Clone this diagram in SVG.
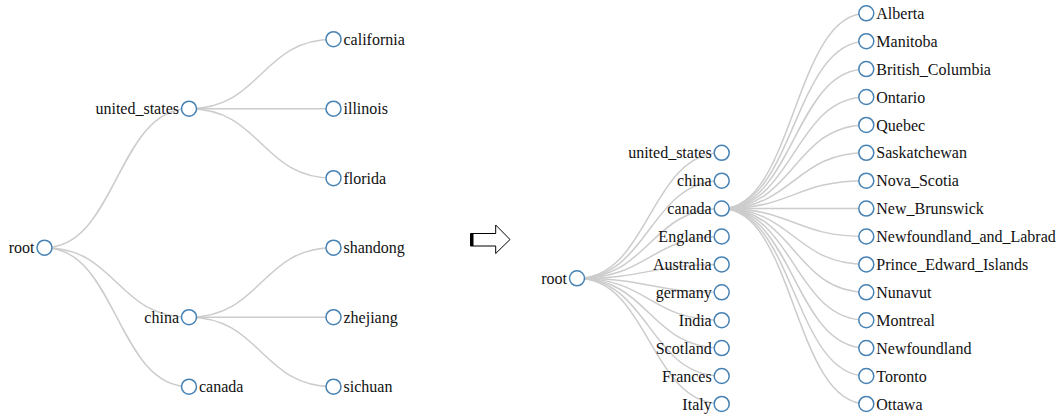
<svg xmlns="http://www.w3.org/2000/svg" width="1063" height="419" viewBox="0 0 1063 419">
<style>
.link{fill:none;stroke:#ccc;stroke-width:1.5}
circle{fill:#fff;stroke:#4682b4;stroke-width:1.5}
text{font-family:'Liberation Serif','Times New Roman',serif;font-size:16px;fill:#111}
.l{text-anchor:end}
</style>
<rect width="1063" height="419" fill="#fff"/>
<g id="links">
<path class="link" d="M44.5,247.7C116.75,247.7 116.75,108.7 189,108.7"/>
<path class="link" d="M44.5,247.7C116.75,247.7 116.75,317.2 189,317.2"/>
<path class="link" d="M44.5,247.7C116.75,247.7 116.75,386.7 189,386.7"/>
<path class="link" d="M189,108.7C261.25,108.7 261.25,39.2 333.5,39.2"/>
<path class="link" d="M189,108.7C261.25,108.7 261.25,108.7 333.5,108.7"/>
<path class="link" d="M189,108.7C261.25,108.7 261.25,178.2 333.5,178.2"/>
<path class="link" d="M189,317.2C261.25,317.2 261.25,247.7 333.5,247.7"/>
<path class="link" d="M189,317.2C261.25,317.2 261.25,317.2 333.5,317.2"/>
<path class="link" d="M189,317.2C261.25,317.2 261.25,386.7 333.5,386.7"/>
<path class="link" d="M577,278.35C649.35,278.35 649.35,152.8 721.7,152.8"/>
<path class="link" d="M577,278.35C649.35,278.35 649.35,180.7 721.7,180.7"/>
<path class="link" d="M577,278.35C649.35,278.35 649.35,208.6 721.7,208.6"/>
<path class="link" d="M577,278.35C649.35,278.35 649.35,236.5 721.7,236.5"/>
<path class="link" d="M577,278.35C649.35,278.35 649.35,264.4 721.7,264.4"/>
<path class="link" d="M577,278.35C649.35,278.35 649.35,292.3 721.7,292.3"/>
<path class="link" d="M577,278.35C649.35,278.35 649.35,320.2 721.7,320.2"/>
<path class="link" d="M577,278.35C649.35,278.35 649.35,348.1 721.7,348.1"/>
<path class="link" d="M577,278.35C649.35,278.35 649.35,376 721.7,376"/>
<path class="link" d="M577,278.35C649.35,278.35 649.35,403.9 721.7,403.9"/>
<path class="link" d="M721.7,208.6C794,208.6 794,13.3 866.3,13.3"/>
<path class="link" d="M721.7,208.6C794,208.6 794,41.2 866.3,41.2"/>
<path class="link" d="M721.7,208.6C794,208.6 794,69.1 866.3,69.1"/>
<path class="link" d="M721.7,208.6C794,208.6 794,97 866.3,97"/>
<path class="link" d="M721.7,208.6C794,208.6 794,124.9 866.3,124.9"/>
<path class="link" d="M721.7,208.6C794,208.6 794,152.8 866.3,152.8"/>
<path class="link" d="M721.7,208.6C794,208.6 794,180.7 866.3,180.7"/>
<path class="link" d="M721.7,208.6C794,208.6 794,208.6 866.3,208.6"/>
<path class="link" d="M721.7,208.6C794,208.6 794,236.5 866.3,236.5"/>
<path class="link" d="M721.7,208.6C794,208.6 794,264.4 866.3,264.4"/>
<path class="link" d="M721.7,208.6C794,208.6 794,292.3 866.3,292.3"/>
<path class="link" d="M721.7,208.6C794,208.6 794,320.2 866.3,320.2"/>
<path class="link" d="M721.7,208.6C794,208.6 794,348.1 866.3,348.1"/>
<path class="link" d="M721.7,208.6C794,208.6 794,376 866.3,376"/>
<path class="link" d="M721.7,208.6C794,208.6 794,403.9 866.3,403.9"/>
</g>
<g id="arrow">
<polygon points="470.5,233.5 495.7,233.5 495.7,225 510,239.5 495.7,253.5 495.7,246 470.5,246" fill="#fff" stroke="#000" stroke-width="1"/>
<rect x="470.5" y="233.5" width="3" height="12.5" fill="#000"/>
</g>
<g id="L_root"><circle cx="44.5" cy="247.7" r="7.5"/><text class="l" x="34.5" y="247.7" dy=".35em">root</text></g>
<g id="L_united_states"><circle cx="189" cy="108.7" r="7.5"/><text class="l" x="179" y="108.7" dy=".35em">united_states</text></g>
<g id="L_china"><circle cx="189" cy="317.2" r="7.5"/><text class="l" x="179" y="317.2" dy=".35em">china</text></g>
<g id="L_canada"><circle cx="189" cy="386.7" r="7.5"/><text x="199" y="386.7" dy=".35em">canada</text></g>
<g id="L_california"><circle cx="333.5" cy="39.2" r="7.5"/><text x="343.5" y="39.2" dy=".35em">california</text></g>
<g id="L_illinois"><circle cx="333.5" cy="108.7" r="7.5"/><text x="343.5" y="108.7" dy=".35em">illinois</text></g>
<g id="L_florida"><circle cx="333.5" cy="178.2" r="7.5"/><text x="343.5" y="178.2" dy=".35em">florida</text></g>
<g id="L_shandong"><circle cx="333.5" cy="247.7" r="7.5"/><text x="343.5" y="247.7" dy=".35em">shandong</text></g>
<g id="L_zhejiang"><circle cx="333.5" cy="317.2" r="7.5"/><text x="343.5" y="317.2" dy=".35em">zhejiang</text></g>
<g id="L_sichuan"><circle cx="333.5" cy="386.7" r="7.5"/><text x="343.5" y="386.7" dy=".35em">sichuan</text></g>
<g id="R_root"><circle cx="577" cy="278.35" r="7.5"/><text class="l" x="567" y="278.35" dy=".35em">root</text></g>
<g id="R_united_states"><circle cx="721.7" cy="152.8" r="7.5"/><text class="l" x="711.7" y="152.8" dy=".35em">united_states</text></g>
<g id="R_china"><circle cx="721.7" cy="180.7" r="7.5"/><text class="l" x="711.7" y="180.7" dy=".35em">china</text></g>
<g id="R_canada"><circle cx="721.7" cy="208.6" r="7.5"/><text class="l" x="711.7" y="208.6" dy=".35em">canada</text></g>
<g id="R_England"><circle cx="721.7" cy="236.5" r="7.5"/><text class="l" x="711.7" y="236.5" dy=".35em">England</text></g>
<g id="R_Australia"><circle cx="721.7" cy="264.4" r="7.5"/><text class="l" x="711.7" y="264.4" dy=".35em">Australia</text></g>
<g id="R_germany"><circle cx="721.7" cy="292.3" r="7.5"/><text class="l" x="711.7" y="292.3" dy=".35em">germany</text></g>
<g id="R_India"><circle cx="721.7" cy="320.2" r="7.5"/><text class="l" x="711.7" y="320.2" dy=".35em">India</text></g>
<g id="R_Scotland"><circle cx="721.7" cy="348.1" r="7.5"/><text class="l" x="711.7" y="348.1" dy=".35em">Scotland</text></g>
<g id="R_Frances"><circle cx="721.7" cy="376" r="7.5"/><text class="l" x="711.7" y="376" dy=".35em">Frances</text></g>
<g id="R_Italy"><circle cx="721.7" cy="403.9" r="7.5"/><text class="l" x="711.7" y="403.9" dy=".35em">Italy</text></g>
<g id="R_Alberta"><circle cx="866.3" cy="13.3" r="7.5"/><text x="876.3" y="13.3" dy=".35em">Alberta</text></g>
<g id="R_Manitoba"><circle cx="866.3" cy="41.2" r="7.5"/><text x="876.3" y="41.2" dy=".35em">Manitoba</text></g>
<g id="R_British_Columbia"><circle cx="866.3" cy="69.1" r="7.5"/><text x="876.3" y="69.1" dy=".35em">British_Columbia</text></g>
<g id="R_Ontario"><circle cx="866.3" cy="97" r="7.5"/><text x="876.3" y="97" dy=".35em">Ontario</text></g>
<g id="R_Quebec"><circle cx="866.3" cy="124.9" r="7.5"/><text x="876.3" y="124.9" dy=".35em">Quebec</text></g>
<g id="R_Saskatchewan"><circle cx="866.3" cy="152.8" r="7.5"/><text x="876.3" y="152.8" dy=".35em">Saskatchewan</text></g>
<g id="R_Nova_Scotia"><circle cx="866.3" cy="180.7" r="7.5"/><text x="876.3" y="180.7" dy=".35em">Nova_Scotia</text></g>
<g id="R_New_Brunswick"><circle cx="866.3" cy="208.6" r="7.5"/><text x="876.3" y="208.6" dy=".35em">New_Brunswick</text></g>
<g id="R_Newfoundland_and_Labrad"><circle cx="866.3" cy="236.5" r="7.5"/><text x="876.3" y="236.5" dy=".35em">Newfoundland_and_Labrad</text></g>
<g id="R_Prince_Edward_Islands"><circle cx="866.3" cy="264.4" r="7.5"/><text x="876.3" y="264.4" dy=".35em">Prince_Edward_Islands</text></g>
<g id="R_Nunavut"><circle cx="866.3" cy="292.3" r="7.5"/><text x="876.3" y="292.3" dy=".35em">Nunavut</text></g>
<g id="R_Montreal"><circle cx="866.3" cy="320.2" r="7.5"/><text x="876.3" y="320.2" dy=".35em">Montreal</text></g>
<g id="R_Newfoundland"><circle cx="866.3" cy="348.1" r="7.5"/><text x="876.3" y="348.1" dy=".35em">Newfoundland</text></g>
<g id="R_Toronto"><circle cx="866.3" cy="376" r="7.5"/><text x="876.3" y="376" dy=".35em">Toronto</text></g>
<g id="R_Ottawa"><circle cx="866.3" cy="403.9" r="7.5"/><text x="876.3" y="403.9" dy=".35em">Ottawa</text></g>
</svg>
